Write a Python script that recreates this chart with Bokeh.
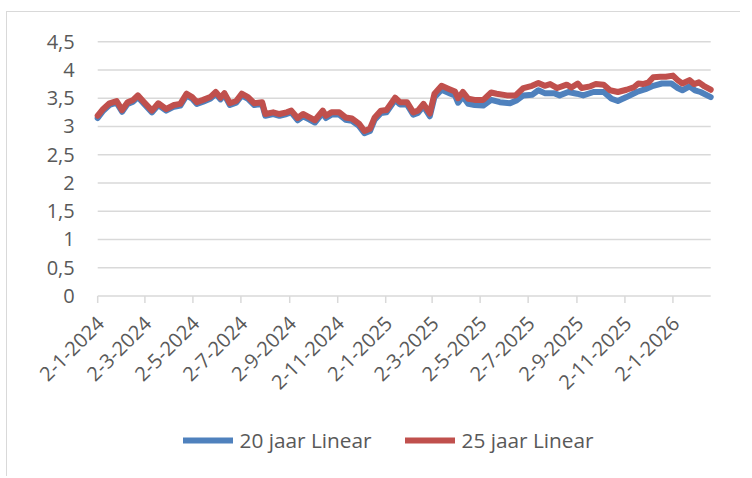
import math
import datetime as dt
from bokeh.plotting import figure
from bokeh.core.properties import value
from bokeh.models import ColumnDataSource, Legend, LegendItem, Range1d
from bokeh.embed import file_html
from bokeh.resources import INLINE

# ---- data ----
dates_25 = ["2024-01-02", "2024-01-09", "2024-01-17", "2024-01-26", "2024-02-02", "2024-02-09",
            "2024-02-16", "2024-02-22", "2024-03-01", "2024-03-11", "2024-03-19", "2024-03-29",
            "2024-04-08", "2024-04-16", "2024-04-24", "2024-05-01", "2024-05-07", "2024-05-15",
            "2024-05-24", "2024-05-31", "2024-06-06", "2024-06-11", "2024-06-18", "2024-06-26",
            "2024-07-03", "2024-07-11", "2024-07-19", "2024-07-29", "2024-08-02", "2024-08-12",
            "2024-08-20", "2024-08-29", "2024-09-04", "2024-09-12", "2024-09-19", "2024-09-26",
            "2024-10-04", "2024-10-14", "2024-10-18", "2024-10-25", "2024-11-04", "2024-11-12",
            "2024-11-20", "2024-11-29", "2024-12-06", "2024-12-13", "2024-12-19", "2024-12-27",
            "2025-01-03", "2025-01-14", "2025-01-20", "2025-01-29", "2025-02-06", "2025-02-12",
            "2025-02-19", "2025-02-27", "2025-03-05", "2025-03-14", "2025-03-24", "2025-03-31",
            "2025-04-04", "2025-04-10", "2025-04-17", "2025-04-25", "2025-05-06", "2025-05-16",
            "2025-05-23", "2025-06-05", "2025-06-16", "2025-06-26", "2025-07-07", "2025-07-15",
            "2025-07-23", "2025-07-30", "2025-08-08", "2025-08-20", "2025-08-26", "2025-09-03",
            "2025-09-08", "2025-09-19", "2025-09-26", "2025-10-06", "2025-10-14", "2025-10-24",
            "2025-11-04", "2025-11-13", "2025-11-19", "2025-11-25", "2025-12-02", "2025-12-08",
            "2025-12-17", "2025-12-24", "2026-01-02", "2026-01-08", "2026-01-14", "2026-01-23",
            "2026-01-29", "2026-02-04", "2026-02-10", "2026-02-19"]
vals_25 = [3.19, 3.31, 3.41, 3.45, 3.29, 3.43,
           3.47, 3.55, 3.43, 3.28, 3.41, 3.31,
           3.38, 3.40, 3.58, 3.52, 3.43, 3.47,
           3.52, 3.61, 3.51, 3.59, 3.41, 3.45,
           3.58, 3.52, 3.41, 3.43, 3.22, 3.25,
           3.22, 3.25, 3.28, 3.15, 3.22, 3.17,
           3.11, 3.28, 3.19, 3.25, 3.25, 3.16,
           3.14, 3.05, 2.92, 2.96, 3.16, 3.28,
           3.29, 3.51, 3.43, 3.43, 3.25, 3.28,
           3.40, 3.23, 3.58, 3.72, 3.66, 3.62,
           3.50, 3.61, 3.49, 3.47, 3.47, 3.60,
           3.58, 3.55, 3.55, 3.68, 3.72, 3.77,
           3.72, 3.75, 3.68, 3.74, 3.69, 3.76,
           3.68, 3.71, 3.75, 3.74, 3.64, 3.61,
           3.65, 3.69, 3.76, 3.75, 3.78, 3.87,
           3.88, 3.88, 3.90, 3.82, 3.76, 3.82,
           3.75, 3.78, 3.72, 3.65]

dates_20 = ["2024-01-02", "2024-01-09", "2024-01-17", "2024-01-26", "2024-02-02", "2024-02-09",
            "2024-02-16", "2024-02-22", "2024-03-01", "2024-03-11", "2024-03-19", "2024-03-29",
            "2024-04-08", "2024-04-16", "2024-04-24", "2024-05-01", "2024-05-07", "2024-05-15",
            "2024-05-24", "2024-05-31", "2024-06-06", "2024-06-11", "2024-06-18", "2024-06-26",
            "2024-07-03", "2024-07-11", "2024-07-19", "2024-07-29", "2024-08-02", "2024-08-12",
            "2024-08-20", "2024-08-29", "2024-09-04", "2024-09-12", "2024-09-19", "2024-09-26",
            "2024-10-04", "2024-10-14", "2024-10-18", "2024-10-25", "2024-11-04", "2024-11-12",
            "2024-11-20", "2024-11-29", "2024-12-06", "2024-12-13", "2024-12-19", "2024-12-27",
            "2025-01-03", "2025-01-14", "2025-01-20", "2025-01-29", "2025-02-06", "2025-02-12",
            "2025-02-19", "2025-02-27", "2025-03-05", "2025-03-14", "2025-03-24", "2025-03-31",
            "2025-04-04", "2025-04-10", "2025-04-17", "2025-04-25", "2025-05-06", "2025-05-16",
            "2025-05-27", "2025-06-09", "2025-06-17", "2025-06-26", "2025-07-07", "2025-07-15",
            "2025-07-23", "2025-08-04", "2025-08-11", "2025-08-22", "2025-09-02", "2025-09-10",
            "2025-09-23", "2025-10-06", "2025-10-16", "2025-10-24", "2025-11-04", "2025-11-17",
            "2025-11-28", "2025-12-08", "2025-12-19", "2025-12-31", "2026-01-08", "2026-01-14",
            "2026-01-23", "2026-01-30", "2026-02-06", "2026-02-19"]
vals_20 = [3.15, 3.28, 3.38, 3.42, 3.26, 3.40,
           3.44, 3.52, 3.40, 3.25, 3.38, 3.28,
           3.35, 3.37, 3.55, 3.49, 3.40, 3.44,
           3.49, 3.58, 3.48, 3.56, 3.38, 3.42,
           3.55, 3.49, 3.38, 3.40, 3.19, 3.22,
           3.19, 3.22, 3.25, 3.11, 3.18, 3.13,
           3.07, 3.24, 3.15, 3.21, 3.21, 3.12,
           3.10, 3.01, 2.88, 2.92, 3.12, 3.24,
           3.25, 3.47, 3.39, 3.39, 3.21, 3.24,
           3.36, 3.18, 3.52, 3.65, 3.59, 3.55,
           3.42, 3.53, 3.40, 3.38, 3.37, 3.47,
           3.43, 3.41, 3.46, 3.55, 3.56, 3.64,
           3.59, 3.59, 3.55, 3.61, 3.58, 3.55,
           3.61, 3.61, 3.49, 3.45, 3.52, 3.61,
           3.66, 3.72, 3.76, 3.76, 3.68, 3.64,
           3.71, 3.64, 3.61, 3.52]

x_tick_labels = ["2-1-2024", "2-3-2024", "2-5-2024", "2-7-2024", "2-9-2024", "2-11-2024",
                 "2-1-2025", "2-3-2025", "2-5-2025", "2-7-2025", "2-9-2025", "2-11-2025",
                 "2-1-2026"]
y_ticks = [0, 0.5, 1, 1.5, 2, 2.5, 3, 3.5, 4, 4.5]
y_tick_labels = ["0", "0,5", "1", "1,5", "2", "2,5", "3", "3,5", "4", "4,5"]
series_names = ["20 jaar Linear", "25 jaar Linear"]

# ---- helpers ----
def to_dt(s):
    return dt.datetime.strptime(s, "%Y-%m-%d")


x_tick_dates = [dt.datetime.strptime(t, "%d-%m-%Y") for t in x_tick_labels]

FONT = "Open Sans"
TXT = "#595959"
GRID = "#d9d9d9"

# ---- layout in pixels: the frame covers the whole canvas so that
#      tick labels and legend (outside the plot area) are not clipped ----
CANVAS_W, CANVAS_H = 733, 464
LEFT_PAD, TOP_PAD = 90.2, 29.2          # plot-area offset inside canvas
PLOT_W, PLOT_H = 613.0, 254.3           # plot-area size
RIGHT_PAD = CANVAS_W - LEFT_PAD - PLOT_W
BOTTOM_PAD = CANVAS_H - TOP_PAD - PLOT_H

X0, X1 = to_dt(dates_25[0]), to_dt(dates_25[-1])
Y0, Y1 = y_ticks[0], y_ticks[-1]
px_per_unit = PLOT_H / (Y1 - Y0)
px_per_sec = PLOT_W / (X1 - X0).total_seconds()
x_start = X0 - dt.timedelta(seconds=LEFT_PAD / px_per_sec)
x_end = X1 + dt.timedelta(seconds=RIGHT_PAD / px_per_sec)
y_start = Y0 - BOTTOM_PAD / px_per_unit
y_end = Y1 + TOP_PAD / px_per_unit
TICK_LEN = 7 / px_per_unit

src20 = ColumnDataSource(dict(x=[to_dt(d) for d in dates_20], y=vals_20))
src25 = ColumnDataSource(dict(x=[to_dt(d) for d in dates_25], y=vals_25))
xtick_src = ColumnDataSource(dict(x=x_tick_dates, y0=[Y0] * len(x_tick_dates),
                                  y1=[Y0 - TICK_LEN] * len(x_tick_dates), label=x_tick_labels))
ygrid_src = ColumnDataSource(dict(x0=[X0] * len(y_ticks), x1=[X1] * len(y_ticks),
                                  y=y_ticks, label=y_tick_labels))

p = figure(frame_width=CANVAS_W, frame_height=CANVAS_H, x_axis_type="datetime",
           x_range=Range1d(x_start, x_end), y_range=Range1d(y_start, y_end),
           output_backend="svg", toolbar_location=None, min_border=0)
p.styles = {"border-left": "1.5px solid #d9d9d9", "border-top": "1.5px solid #d9d9d9",
            "margin-left": "6px", "margin-top": "11px"}
p.outline_line_color = None
p.background_fill_color = "white"
p.border_fill_color = "white"
p.xaxis.visible = False
p.yaxis.visible = False
p.xgrid.grid_line_color = None
p.ygrid.grid_line_color = None

# horizontal gridlines (the 0 line doubles as the date axis line)
p.segment(x0="x0", y0="y", x1="x1", y1="y", source=ygrid_src, line_color=GRID, line_width=1.5)
# value labels
p.text(x="x0", y="y", text="label", source=ygrid_src, text_align="right",
       text_baseline="middle", x_offset=-23, y_offset=0,
       text_font=value(FONT), text_font_size="20px", text_color=TXT)
# date ticks and rotated date labels
p.segment(x0="x", y0="y0", x1="x", y1="y1", source=xtick_src, line_color=GRID, line_width=1.5)
p.text(x="x", y="y0", text="label", source=xtick_src, angle=math.pi / 4,
       text_align="right", text_baseline="middle", x_offset=3, y_offset=24,
       text_font=value(FONT), text_font_size="20px", text_color=TXT)

r20 = p.line(x="x", y="y", source=src20, line_width=6, line_color="#4F81BD",
             line_join="round", line_cap="round")
r25 = p.line(x="x", y="y", source=src25, line_width=6, line_color="#C0504D",
             line_join="round", line_cap="round")

legend = Legend(items=[LegendItem(label=series_names[0], renderers=[r20]),
                       LegendItem(label=series_names[1], renderers=[r25])],
                orientation="horizontal", location=(175.5, 22),
                glyph_width=50, glyph_height=20, label_height=20, label_standoff=7,
                spacing=33, padding=0, margin=0,
                border_line_color=None, background_fill_alpha=0,
                label_text_font=FONT, label_text_font_size="20.8px", label_text_color=TXT)
p.add_layout(legend, "center")

open("out.html", "w").write(file_html(p, INLINE))
